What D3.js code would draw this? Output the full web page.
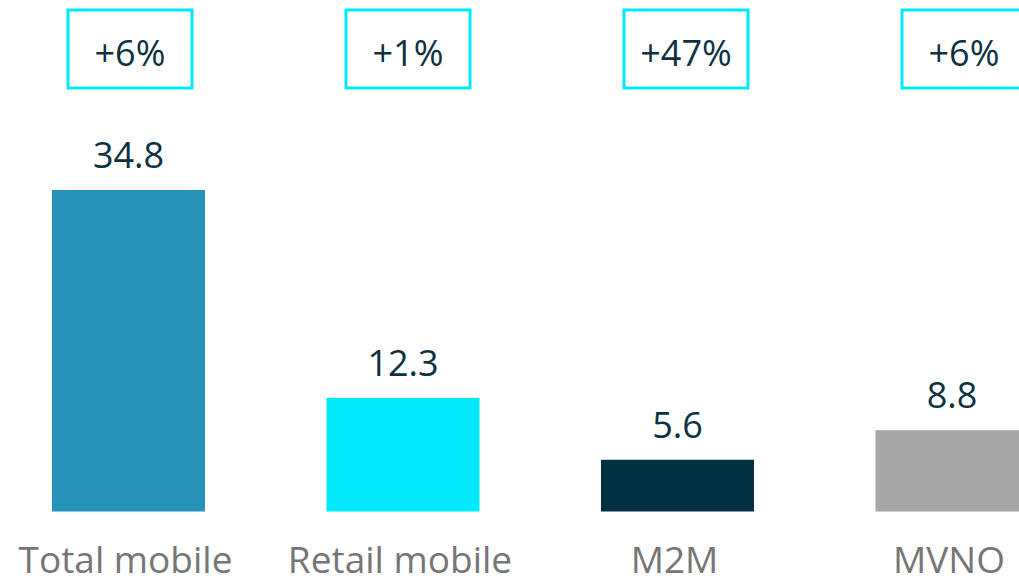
<!DOCTYPE html>
<html>
<head>
<meta charset="utf-8">
<script src="https://cdn.jsdelivr.net/npm/d3@7"></script>
<style>
  html, body { margin: 0; padding: 0; background: #fff; overflow: hidden; }
  svg { display: block; font-family: "Open Sans", "Noto Sans", sans-serif; }
</style>
</head>
<body>
<svg class="chart"></svg>
<script>
var w = 1019;
var h = 580;

// data
var categories = ["Total mobile", "Retail mobile", "M2M", "MVNO"];
var values = [34.8, 12.3, 5.6, 8.8];
var growth = ["+6%", "+1%", "+47%", "+6%"];
var barColors = ["#2792b7", "#00eafb", "#023043", "#a6a6a6"];

var canvas = d3.select(".chart").attr("width", w).attr("height", h);

var xScale = d3
  .scaleBand()
  .domain(categories)
  .range([-8.75, 1089.25])
  .paddingInner(0.4426)
  .paddingOuter(0.2213);

// the growth boxes sit a bit off the bar centres
var boxScale = d3.scalePoint().domain(categories).range([130, 964]);

var yScale = d3.scaleLinear().domain([0, 34.8]).range([511.5, 190]);

var rows = categories.map((c, i) => ({
  cat: c,
  value: values[i],
  growth: growth[i],
  color: barColors[i],
}));

// bars
canvas
  .selectAll("rect.bar")
  .data(rows)
  .join("rect")
  .attr("class", "bar")
  .attr("x", (d) => xScale(d.cat))
  .attr("y", (d) => yScale(d.value))
  .attr("width", xScale.bandwidth())
  .attr("height", (d) => yScale(0) - yScale(d.value))
  .attr("fill", (d) => d.color);

// value labels
canvas
  .selectAll("text.val")
  .data(rows)
  .join("text")
  .attr("class", "val")
  .attr("x", (d) => xScale(d.cat) + xScale.bandwidth() / 2)
  .attr("y", (d) => yScale(d.value) - 22)
  .attr("text-anchor", "middle")
  .style("font-size", "36px")
  .style("fill", "#0b3142")
  .text((d) => d.value.toFixed(1));

// category labels
canvas
  .selectAll("text.cat")
  .data(rows)
  .join("text")
  .attr("class", "cat")
  .attr("x", (d) => xScale(d.cat) + xScale.bandwidth() / 2 - 3)
  .attr("y", 573)
  .attr("text-anchor", "middle")
  .style("font-size", "37px")
  .style("fill", "#767676")
  .text((d) => d.cat);

// growth boxes
var boxW = 124,
  boxH = 78;
var boxes = canvas
  .selectAll("g.box")
  .data(rows)
  .join("g")
  .attr("class", "box")
  .attr("transform", (d) => "translate(" + boxScale(d.cat) + ",0)");

boxes
  .append("rect")
  .attr("x", -boxW / 2)
  .attr("y", 10)
  .attr("width", boxW)
  .attr("height", boxH)
  .attr("fill", "none")
  .attr("stroke", "#00eafb")
  .attr("stroke-width", 3);

boxes
  .append("text")
  .attr("x", 0)
  .attr("y", 66)
  .attr("text-anchor", "middle")
  .style("font-size", "36px")
  .style("fill", "#0b3142")
  .text((d) => d.growth);
</script>
</body>
</html>
